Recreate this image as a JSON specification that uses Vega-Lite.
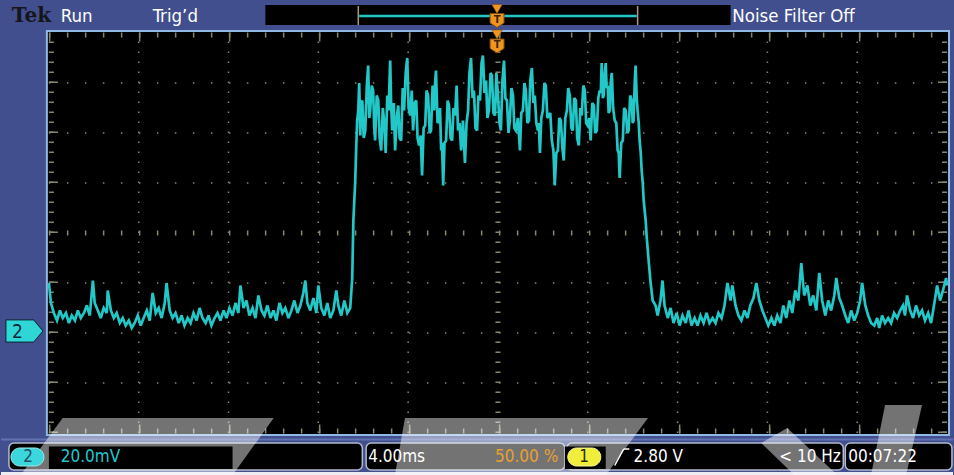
{
  "$schema": "https://vega.github.io/schema/vega-lite/v6.json",
  "width": 954,
  "height": 475,
  "autosize": {"type": "fit", "contains": "padding"},
  "padding": 0,
  "background": "#414f8f",
  "config": {"view": {"stroke": null}, "axis": {"disable": true}},
  "data": {"values": [{}]},
  "datasets": {
    "vgrid": [{"t": -16}, {"t": -12}, {"t": -8}, {"t": -4}, {"t": 4}, {"t": 8}, {"t": 12}, {"t": 16}],
    "hgrid": [{"v": -20}, {"v": 0}, {"v": 20}, {"v": 60}, {"v": 80}, {"v": 100}],
    "trace": [
      {"t": -20, "v": 20}, {"t": -19.91, "v": 12}, {"t": -19.78, "v": 8}, {"t": -19.64, "v": 5}, {"t": -19.51, "v": 9}, {"t": -19.38, "v": 6}, {"t": -19.24, "v": 8}, {"t": -19.11, "v": 4}, {"t": -18.98, "v": 7}, {"t": -18.84, "v": 5}, {"t": -18.71, "v": 9}, {"t": -18.58, "v": 6}, {"t": -18.44, "v": 8}, {"t": -18.31, "v": 11}, {"t": -18.18, "v": 7}, {"t": -18.04, "v": 21}, {"t": -17.96, "v": 12}, {"t": -17.82, "v": 9}, {"t": -17.69, "v": 6}, {"t": -17.56, "v": 10}, {"t": -17.42, "v": 8}, {"t": -17.38, "v": 17}, {"t": -17.24, "v": 9}, {"t": -17.11, "v": 6}, {"t": -16.98, "v": 8}, {"t": -16.84, "v": 4}, {"t": -16.71, "v": 6}, {"t": -16.58, "v": 3}, {"t": -16.44, "v": 5}, {"t": -16.31, "v": 2}, {"t": -16.18, "v": 4}, {"t": -16.04, "v": 7}, {"t": -15.91, "v": 3}, {"t": -15.78, "v": 6}, {"t": -15.64, "v": 9}, {"t": -15.51, "v": 5}, {"t": -15.38, "v": 16}, {"t": -15.24, "v": 8}, {"t": -15.11, "v": 10}, {"t": -14.98, "v": 6}, {"t": -14.84, "v": 12}, {"t": -14.76, "v": 20}, {"t": -14.62, "v": 9}, {"t": -14.49, "v": 6}, {"t": -14.36, "v": 8}, {"t": -14.22, "v": 4}, {"t": -14.09, "v": 7}, {"t": -13.96, "v": 3}, {"t": -13.82, "v": 6}, {"t": -13.69, "v": 4}, {"t": -13.56, "v": 8}, {"t": -13.42, "v": 5}, {"t": -13.29, "v": 10}, {"t": -13.16, "v": 6}, {"t": -13.02, "v": 4}, {"t": -12.89, "v": 7}, {"t": -12.76, "v": 3}, {"t": -12.62, "v": 6}, {"t": -12.49, "v": 8}, {"t": -12.36, "v": 5}, {"t": -12.22, "v": 9}, {"t": -12.09, "v": 6}, {"t": -11.96, "v": 10}, {"t": -11.82, "v": 7}, {"t": -11.69, "v": 12}, {"t": -11.56, "v": 8}, {"t": -11.47, "v": 19}, {"t": -11.33, "v": 10}, {"t": -11.2, "v": 13}, {"t": -11.07, "v": 7}, {"t": -10.93, "v": 10}, {"t": -10.8, "v": 6}, {"t": -10.67, "v": 15}, {"t": -10.53, "v": 9}, {"t": -10.4, "v": 7}, {"t": -10.27, "v": 11}, {"t": -10.13, "v": 6}, {"t": -10, "v": 9}, {"t": -9.87, "v": 5}, {"t": -9.73, "v": 12}, {"t": -9.6, "v": 8}, {"t": -9.47, "v": 10}, {"t": -9.33, "v": 6}, {"t": -9.2, "v": 9}, {"t": -9.07, "v": 13}, {"t": -8.93, "v": 8}, {"t": -8.8, "v": 11}, {"t": -8.67, "v": 16}, {"t": -8.58, "v": 21}, {"t": -8.49, "v": 12}, {"t": -8.36, "v": 9}, {"t": -8.22, "v": 14}, {"t": -8.09, "v": 8}, {"t": -8, "v": 19}, {"t": -7.87, "v": 10}, {"t": -7.73, "v": 7}, {"t": -7.6, "v": 12}, {"t": -7.47, "v": 6}, {"t": -7.33, "v": 9}, {"t": -7.2, "v": 17}, {"t": -7.11, "v": 11}, {"t": -6.98, "v": 7}, {"t": -6.84, "v": 13}, {"t": -6.71, "v": 8}, {"t": -6.58, "v": 10},
      {"t": -6.49, "v": 22}, {"t": -6.44, "v": 45}, {"t": -6.36, "v": 60}, {"t": -6.31, "v": 75}, {"t": -6.27, "v": 85},
      {"t": -6.22, "v": 89}, {"t": -6.18, "v": 100}, {"t": -6.13, "v": 79}, {"t": -6.09, "v": 92}, {"t": -6.04, "v": 93}, {"t": -5.98, "v": 78}, {"t": -5.91, "v": 81}, {"t": -5.84, "v": 99}, {"t": -5.78, "v": 107}, {"t": -5.73, "v": 86}, {"t": -5.69, "v": 89}, {"t": -5.62, "v": 99}, {"t": -5.56, "v": 97}, {"t": -5.51, "v": 82}, {"t": -5.47, "v": 77}, {"t": -5.4, "v": 95}, {"t": -5.33, "v": 93}, {"t": -5.27, "v": 78}, {"t": -5.2, "v": 73}, {"t": -5.13, "v": 90}, {"t": -5.07, "v": 85}, {"t": -5.0, "v": 72}, {"t": -4.93, "v": 95}, {"t": -4.87, "v": 89}, {"t": -4.8, "v": 109}, {"t": -4.76, "v": 92}, {"t": -4.71, "v": 81}, {"t": -4.64, "v": 92}, {"t": -4.58, "v": 73}, {"t": -4.51, "v": 86}, {"t": -4.44, "v": 91}, {"t": -4.38, "v": 78}, {"t": -4.31, "v": 77}, {"t": -4.24, "v": 98}, {"t": -4.18, "v": 89}, {"t": -4.11, "v": 104}, {"t": -4.04, "v": 110}, {"t": -3.98, "v": 90}, {"t": -3.91, "v": 87}, {"t": -3.84, "v": 97}, {"t": -3.78, "v": 81}, {"t": -3.71, "v": 92}, {"t": -3.64, "v": 93}, {"t": -3.58, "v": 78}, {"t": -3.51, "v": 75}, {"t": -3.44, "v": 79}, {"t": -3.38, "v": 63}, {"t": -3.31, "v": 82}, {"t": -3.24, "v": 83}, {"t": -3.18, "v": 97}, {"t": -3.11, "v": 95}, {"t": -3.04, "v": 80}, {"t": -2.98, "v": 81}, {"t": -2.91, "v": 99}, {"t": -2.84, "v": 89}, {"t": -2.8, "v": 100}, {"t": -2.76, "v": 105}, {"t": -2.69, "v": 84}, {"t": -2.62, "v": 85}, {"t": -2.58, "v": 90}, {"t": -2.53, "v": 73}, {"t": -2.49, "v": 76}, {"t": -2.44, "v": 59}, {"t": -2.38, "v": 76}, {"t": -2.31, "v": 77}, {"t": -2.24, "v": 93}, {"t": -2.18, "v": 91}, {"t": -2.11, "v": 78}, {"t": -2.04, "v": 77}, {"t": -1.98, "v": 90}, {"t": -1.91, "v": 87}, {"t": -1.84, "v": 99}, {"t": -1.78, "v": 81}, {"t": -1.71, "v": 84}, {"t": -1.64, "v": 73}, {"t": -1.56, "v": 85}, {"t": -1.47, "v": 68}, {"t": -1.4, "v": 84}, {"t": -1.33, "v": 89}, {"t": -1.27, "v": 104}, {"t": -1.2, "v": 110}, {"t": -1.13, "v": 94}, {"t": -1.07, "v": 97}, {"t": -1.0, "v": 82}, {"t": -0.93, "v": 81}, {"t": -0.87, "v": 95}, {"t": -0.8, "v": 93}, {"t": -0.73, "v": 108}, {"t": -0.67, "v": 111}, {"t": -0.6, "v": 96}, {"t": -0.53, "v": 101}, {"t": -0.47, "v": 86}, {"t": -0.4, "v": 89}, {"t": -0.33, "v": 104}, {"t": -0.27, "v": 103}, {"t": -0.2, "v": 88}, {"t": -0.13, "v": 87}, {"t": -0.07, "v": 104}, {"t": 0, "v": 95}, {"t": 0.07, "v": 84}, {"t": 0.13, "v": 81}, {"t": 0.2, "v": 101}, {"t": 0.27, "v": 109}, {"t": 0.33, "v": 94}, {"t": 0.4, "v": 93}, {"t": 0.47, "v": 80}, {"t": 0.53, "v": 85}, {"t": 0.6, "v": 98}, {"t": 0.67, "v": 95}, {"t": 0.73, "v": 82}, {"t": 0.8, "v": 81}, {"t": 0.89, "v": 86}, {"t": 0.98, "v": 73}, {"t": 1.04, "v": 88}, {"t": 1.11, "v": 89}, {"t": 1.18, "v": 100}, {"t": 1.24, "v": 97}, {"t": 1.31, "v": 84}, {"t": 1.38, "v": 85}, {"t": 1.44, "v": 101}, {"t": 1.51, "v": 106}, {"t": 1.58, "v": 92}, {"t": 1.64, "v": 95}, {"t": 1.71, "v": 84}, {"t": 1.78, "v": 81}, {"t": 1.82, "v": 84}, {"t": 1.87, "v": 72}, {"t": 1.93, "v": 86}, {"t": 2.0, "v": 89}, {"t": 2.07, "v": 100}, {"t": 2.13, "v": 99}, {"t": 2.2, "v": 86}, {"t": 2.27, "v": 87}, {"t": 2.33, "v": 88}, {"t": 2.4, "v": 77}, {"t": 2.47, "v": 73}, {"t": 2.53, "v": 59}, {"t": 2.6, "v": 72}, {"t": 2.67, "v": 73}, {"t": 2.73, "v": 86}, {"t": 2.8, "v": 85}, {"t": 2.87, "v": 74}, {"t": 2.93, "v": 69}, {"t": 3.0, "v": 86}, {"t": 3.07, "v": 89}, {"t": 3.13, "v": 98}, {"t": 3.2, "v": 95}, {"t": 3.27, "v": 82}, {"t": 3.33, "v": 81}, {"t": 3.4, "v": 94}, {"t": 3.47, "v": 93}, {"t": 3.53, "v": 78}, {"t": 3.6, "v": 75}, {"t": 3.67, "v": 90}, {"t": 3.73, "v": 87}, {"t": 3.8, "v": 99}, {"t": 3.87, "v": 97}, {"t": 3.93, "v": 84}, {"t": 4.0, "v": 83}, {"t": 4.07, "v": 86}, {"t": 4.13, "v": 77}, {"t": 4.2, "v": 92}, {"t": 4.27, "v": 91}, {"t": 4.33, "v": 80}, {"t": 4.4, "v": 81}, {"t": 4.47, "v": 94}, {"t": 4.53, "v": 97}, {"t": 4.58, "v": 96}, {"t": 4.62, "v": 108}, {"t": 4.67, "v": 94}, {"t": 4.71, "v": 95}, {"t": 4.76, "v": 104}, {"t": 4.8, "v": 108}, {"t": 4.84, "v": 98}, {"t": 4.89, "v": 99}, {"t": 4.93, "v": 88}, {"t": 4.98, "v": 89}, {"t": 5.02, "v": 100}, {"t": 5.07, "v": 104}, {"t": 5.13, "v": 90}, {"t": 5.2, "v": 85}, {"t": 5.27, "v": 84}, {"t": 5.33, "v": 73}, {"t": 5.38, "v": 72}, {"t": 5.42, "v": 62}, {"t": 5.49, "v": 76}, {"t": 5.56, "v": 77}, {"t": 5.62, "v": 90}, {"t": 5.69, "v": 89}, {"t": 5.76, "v": 80}, {"t": 5.82, "v": 81}, {"t": 5.89, "v": 95}, {"t": 5.96, "v": 93}, {"t": 6.0, "v": 84}, {"t": 6.04, "v": 85}, {"t": 6.09, "v": 100}, {"t": 6.13, "v": 107}, {"t": 6.18, "v": 94}, {"t": 6.22, "v": 89}, {"t": 6.27, "v": 84}, {"t": 6.31, "v": 77}, {"t": 6.36, "v": 72}, {"t": 6.4, "v": 65}, {"t": 6.45, "v": 60}, {"t": 6.49, "v": 53}, {"t": 6.58, "v": 45}, {"t": 6.62, "v": 39}, {"t": 6.71, "v": 29}, {"t": 6.8, "v": 20}, {"t": 6.89, "v": 13}, {"t": 7.02, "v": 11},
      {"t": 7.11, "v": 7}, {"t": 7.24, "v": 13}, {"t": 7.33, "v": 21}, {"t": 7.42, "v": 11}, {"t": 7.56, "v": 6}, {"t": 7.69, "v": 10}, {"t": 7.82, "v": 4}, {"t": 7.96, "v": 8}, {"t": 8.09, "v": 3}, {"t": 8.22, "v": 7}, {"t": 8.36, "v": 4}, {"t": 8.49, "v": 9}, {"t": 8.62, "v": 3}, {"t": 8.76, "v": 6}, {"t": 8.89, "v": 3}, {"t": 9.02, "v": 7}, {"t": 9.16, "v": 4}, {"t": 9.29, "v": 8}, {"t": 9.42, "v": 4}, {"t": 9.56, "v": 6}, {"t": 9.69, "v": 4}, {"t": 9.82, "v": 8}, {"t": 9.96, "v": 6}, {"t": 10.09, "v": 11}, {"t": 10.22, "v": 20}, {"t": 10.36, "v": 13}, {"t": 10.44, "v": 19}, {"t": 10.58, "v": 11}, {"t": 10.71, "v": 7}, {"t": 10.84, "v": 5}, {"t": 10.98, "v": 9}, {"t": 11.11, "v": 6}, {"t": 11.24, "v": 11}, {"t": 11.38, "v": 14}, {"t": 11.51, "v": 20}, {"t": 11.64, "v": 13}, {"t": 11.78, "v": 9}, {"t": 11.91, "v": 6}, {"t": 12.04, "v": 3}, {"t": 12.18, "v": 6}, {"t": 12.31, "v": 3}, {"t": 12.44, "v": 7}, {"t": 12.58, "v": 4}, {"t": 12.71, "v": 11}, {"t": 12.84, "v": 6}, {"t": 12.98, "v": 13}, {"t": 13.11, "v": 8}, {"t": 13.24, "v": 17}, {"t": 13.38, "v": 13}, {"t": 13.51, "v": 28}, {"t": 13.64, "v": 15}, {"t": 13.78, "v": 19}, {"t": 13.91, "v": 11}, {"t": 14.04, "v": 15}, {"t": 14.18, "v": 9}, {"t": 14.31, "v": 24}, {"t": 14.44, "v": 13}, {"t": 14.58, "v": 7}, {"t": 14.71, "v": 13}, {"t": 14.84, "v": 9}, {"t": 14.98, "v": 15}, {"t": 15.07, "v": 22}, {"t": 15.2, "v": 14}, {"t": 15.33, "v": 11}, {"t": 15.47, "v": 7}, {"t": 15.6, "v": 4}, {"t": 15.73, "v": 9}, {"t": 15.87, "v": 5}, {"t": 16.0, "v": 8}, {"t": 16.13, "v": 13}, {"t": 16.22, "v": 20}, {"t": 16.36, "v": 11}, {"t": 16.49, "v": 7}, {"t": 16.62, "v": 4}, {"t": 16.76, "v": 3}, {"t": 16.89, "v": 6}, {"t": 16.98, "v": 2}, {"t": 17.11, "v": 7}, {"t": 17.24, "v": 4}, {"t": 17.38, "v": 6}, {"t": 17.51, "v": 4}, {"t": 17.64, "v": 8}, {"t": 17.78, "v": 6}, {"t": 17.91, "v": 9}, {"t": 18.04, "v": 11}, {"t": 18.13, "v": 7}, {"t": 18.22, "v": 15}, {"t": 18.36, "v": 9}, {"t": 18.49, "v": 6}, {"t": 18.62, "v": 11}, {"t": 18.76, "v": 7}, {"t": 18.89, "v": 9}, {"t": 19.02, "v": 5}, {"t": 19.16, "v": 8}, {"t": 19.29, "v": 4}, {"t": 19.42, "v": 11}, {"t": 19.56, "v": 19}, {"t": 19.69, "v": 13}, {"t": 19.82, "v": 17}, {"t": 19.96, "v": 22}, {"t": 20.0, "v": 19}
    ]
  },
  "layer": [
    {
      "mark": {"type": "rect", "fill": "#000000"},
      "encoding": {
        "x": {"datum": -20.09, "type": "quantitative", "scale": {"domain": [-22.1333, 20.2667], "nice": false, "zero": false}},
        "x2": {"datum": 20.09},
        "y": {"datum": 120.8, "type": "quantitative", "scale": {"domain": [-56.8, 133.2], "nice": false, "zero": false}},
        "y2": {"datum": -40.8}
      }
    },
    {
      "data": {"name": "vgrid"},
      "mark": {"type": "rule", "color": "#858570", "strokeWidth": 1.5, "strokeDash": [1.5, 8.5]},
      "encoding": {"x": {"field": "t", "type": "quantitative"}, "y": {"datum": -40}, "y2": {"datum": 120}}
    },
    {
      "data": {"name": "hgrid"},
      "mark": {"type": "rule", "color": "#858570", "strokeWidth": 1.5, "strokeDash": [1.5, 16.5]},
      "encoding": {"y": {"field": "v", "type": "quantitative"}, "x": {"datum": -20}, "x2": {"datum": 20}}
    },
    {
      "mark": {"type": "rule", "color": "#858570", "strokeWidth": 5, "strokeDash": [1.5, 8.5]},
      "encoding": {"x": {"datum": 0}, "y": {"datum": -40}, "y2": {"datum": 120}}
    },
    {
      "mark": {"type": "rule", "color": "#858570", "strokeWidth": 5, "strokeDash": [1.5, 16.5]},
      "encoding": {"y": {"datum": 40}, "x": {"datum": -20}, "x2": {"datum": 20}}
    },
    {
      "mark": {"type": "rule", "color": "#858570", "strokeWidth": 5, "strokeDash": [1.5, 16.5]},
      "encoding": {"y": {"datum": 119.2}, "x": {"datum": -20}, "x2": {"datum": 20}}
    },
    {
      "mark": {"type": "rule", "color": "#858570", "strokeWidth": 9, "strokeDash": [1.5, 88.5]},
      "encoding": {"y": {"datum": 118.4}, "x": {"datum": -20}, "x2": {"datum": 20}}
    },
    {
      "mark": {"type": "rule", "color": "#858570", "strokeWidth": 5, "strokeDash": [1.5, 16.5]},
      "encoding": {"y": {"datum": -39.2}, "x": {"datum": -20}, "x2": {"datum": 20}}
    },
    {
      "mark": {"type": "rule", "color": "#858570", "strokeWidth": 9, "strokeDash": [1.5, 88.5]},
      "encoding": {"y": {"datum": -38.4}, "x": {"datum": -20}, "x2": {"datum": 20}}
    },
    {
      "mark": {"type": "rule", "color": "#858570", "strokeWidth": 5, "strokeDash": [1.5, 8.5]},
      "encoding": {"x": {"datum": -19.89}, "y": {"datum": -40}, "y2": {"datum": 120}}
    },
    {
      "mark": {"type": "rule", "color": "#858570", "strokeWidth": 9, "strokeDash": [1.5, 48.5]},
      "encoding": {"x": {"datum": -19.8}, "y": {"datum": -40}, "y2": {"datum": 120}}
    },
    {
      "mark": {"type": "rule", "color": "#858570", "strokeWidth": 5, "strokeDash": [1.5, 8.5]},
      "encoding": {"x": {"datum": 19.89}, "y": {"datum": -40}, "y2": {"datum": 120}}
    },
    {
      "mark": {"type": "rule", "color": "#858570", "strokeWidth": 9, "strokeDash": [1.5, 48.5]},
      "encoding": {"x": {"datum": 19.8}, "y": {"datum": -40}, "y2": {"datum": 120}}
    },
    {
      "data": {"name": "trace"},
      "mark": {"type": "line", "color": "#22c8c8", "strokeWidth": 2.7, "strokeJoin": "miter", "strokeMiterLimit": 3},
      "encoding": {"x": {"field": "t", "type": "quantitative"}, "y": {"field": "v", "type": "quantitative"}}
    },
    {
      "mark": {"type": "rect", "filled": false, "stroke": "#8fb8e4", "strokeWidth": 2},
      "encoding": {"x": {"datum": -20.09}, "x2": {"datum": 20.09}, "y": {"datum": 120.8}, "y2": {"datum": -40.8}}
    },
    {
      "mark": {"type": "rule", "color": "#6272b0", "strokeWidth": 2},
      "encoding": {"x": {"datum": -22.1333}, "x2": {"datum": 20.2667}, "y": {"datum": -42.6}}
    },
    {
      "mark": {"type": "rect", "fill": "#ececf2"},
      "encoding": {"x": {"datum": -22.1333}, "x2": {"datum": 20.2667}, "y": {"datum": -55.6}, "y2": {"datum": -56.8}}
    },
    {
      "mark": {"type": "point", "shape": "M-1,-0.6L0.5,-0.6L1,0L0.5,0.6L-1,0.6Z", "size": 1369, "filled": true, "fill": "#2fd6d6", "stroke": "#0a2430", "strokeWidth": 1, "opacity": 1},
      "encoding": {"x": {"datum": -21.09}, "y": {"datum": 0.8}}
    },
    {
      "mark": {"type": "text", "text": "2", "font": "DejaVu Sans Condensed", "fontSize": 19, "color": "#0b2838", "align": "center", "baseline": "middle"},
      "encoding": {"x": {"datum": -21.4}, "y": {"datum": 0.6}}
    },
    {
      "mark": {"type": "rect", "fill": "#000000"},
      "encoding": {"x": {"datum": -10.36}, "x2": {"datum": 10.36}, "y": {"datum": 131.2}, "y2": {"datum": 123.2}}
    },
    {
      "mark": {"type": "rule", "color": "#22c8c8", "strokeWidth": 2.5},
      "encoding": {"x": {"datum": -6.18}, "x2": {"datum": 6.18}, "y": {"datum": 126.8}}
    },
    {
      "mark": {"type": "rule", "color": "#a89888", "strokeWidth": 1.5},
      "encoding": {"x": {"datum": -6.22}, "y": {"datum": 130.8}, "y2": {"datum": 123.2}}
    },
    {
      "mark": {"type": "rule", "color": "#a89888", "strokeWidth": 1.5},
      "encoding": {"x": {"datum": 6.22}, "y": {"datum": 130.8}, "y2": {"datum": 123.2}}
    },
    {
      "mark": {"type": "point", "shape": "triangle-down", "size": 110, "filled": true, "fill": "#f0961e", "stroke": "#7a4a10", "strokeWidth": 0.5, "opacity": 1},
      "encoding": {"x": {"datum": -0.04}, "y": {"datum": 129.6}}
    },
    {
      "mark": {"type": "point", "shape": "M-1,-1L1,-1L1,0.35L0,1L-1,0.35Z", "size": 196, "filled": true, "fill": "#f0961e", "stroke": "#7a4a10", "strokeWidth": 1, "opacity": 1},
      "encoding": {"x": {"datum": -0.04}, "y": {"datum": 125.0}}
    },
    {
      "mark": {"type": "text", "text": "T", "font": "DejaVu Sans", "fontWeight": "bold", "fontSize": 10, "color": "#3a2508", "align": "center", "baseline": "middle"},
      "encoding": {"x": {"datum": -0.04}, "y": {"datum": 125.4}}
    },
    {
      "mark": {"type": "point", "shape": "triangle-down", "size": 110, "filled": true, "fill": "#f0961e", "stroke": "#7a4a10", "strokeWidth": 0.5, "opacity": 1},
      "encoding": {"x": {"datum": -0.04}, "y": {"datum": 119.4}}
    },
    {
      "mark": {"type": "point", "shape": "M-1,-1L1,-1L1,0.35L0,1L-1,0.35Z", "size": 196, "filled": true, "fill": "#f0961e", "stroke": "#7a4a10", "strokeWidth": 1, "opacity": 1},
      "encoding": {"x": {"datum": -0.04}, "y": {"datum": 114.8}}
    },
    {
      "mark": {"type": "text", "text": "T", "font": "DejaVu Sans", "fontWeight": "bold", "fontSize": 10, "color": "#3a2508", "align": "center", "baseline": "middle"},
      "encoding": {"x": {"datum": -0.04}, "y": {"datum": 115.2}}
    },
    {
      "mark": {"type": "text", "text": "Tek", "font": "DejaVu Serif", "fontWeight": "bold", "fontSize": 20, "color": "#15151a", "align": "left", "baseline": "middle"},
      "encoding": {"x": {"datum": -21.65}, "y": {"datum": 127.0}}
    },
    {
      "mark": {"type": "text", "text": "Run", "font": "DejaVu Sans Condensed", "fontSize": 18.5, "color": "#ffffff", "align": "left", "baseline": "middle"},
      "encoding": {"x": {"datum": -19.47}, "y": {"datum": 126.8}}
    },
    {
      "mark": {"type": "text", "text": "Trig’d", "font": "DejaVu Sans Condensed", "fontSize": 18.5, "color": "#ffffff", "align": "left", "baseline": "middle"},
      "encoding": {"x": {"datum": -15.38}, "y": {"datum": 126.8}}
    },
    {
      "mark": {"type": "text", "text": "Noise Filter Off", "font": "DejaVu Sans Condensed", "fontSize": 18.5, "color": "#ffffff", "align": "left", "baseline": "middle"},
      "encoding": {"x": {"datum": 10.44}, "y": {"datum": 126.8}}
    },
    {
      "mark": {"type": "rect", "fill": "#000000", "stroke": "#b4b8cc", "strokeWidth": 1.5, "cornerRadius": 5},
      "encoding": {"x": {"datum": -21.78}, "x2": {"datum": -6.04}, "y": {"datum": -44.0}, "y2": {"datum": -54.8}}
    },
    {
      "mark": {"type": "rect", "fill": "#000000", "stroke": "#b4b8cc", "strokeWidth": 1.5, "cornerRadius": 5},
      "encoding": {"x": {"datum": -5.87}, "x2": {"datum": 2.98}, "y": {"datum": -44.0}, "y2": {"datum": -54.8}}
    },
    {
      "mark": {"type": "rect", "fill": "#000000", "stroke": "#b4b8cc", "strokeWidth": 1.5, "cornerRadius": 5},
      "encoding": {"x": {"datum": 3.07}, "x2": {"datum": 15.38}, "y": {"datum": -44.0}, "y2": {"datum": -54.8}}
    },
    {
      "mark": {"type": "rect", "fill": "#000000", "stroke": "#b4b8cc", "strokeWidth": 1.5, "cornerRadius": 5},
      "encoding": {"x": {"datum": 15.47}, "x2": {"datum": 20.22}, "y": {"datum": -44.0}, "y2": {"datum": -54.8}}
    },
    {
      "mark": {"type": "point", "shape": "M-127,29L-85,-28L126,-28L85,29Z", "size": 4, "filled": true, "fill": "#ffffff", "strokeWidth": 0, "opacity": 0.45},
      "encoding": {"x": {"datum": -15.6}, "y": {"datum": -45.2}}
    },
    {
      "mark": {"type": "point", "shape": "M-115,-28L128,-28L86,29L-125,29Z", "size": 4, "filled": true, "fill": "#ffffff", "strokeWidth": 0, "opacity": 0.45},
      "encoding": {"x": {"datum": 0.98}, "y": {"datum": -45.2}}
    },
    {
      "mark": {"type": "point", "shape": "M-38,-7L-12,-22L38,25L-5,25Z", "size": 4, "filled": true, "fill": "#ffffff", "strokeWidth": 0, "opacity": 0.45},
      "encoding": {"x": {"datum": 13.42}, "y": {"datum": -46.8}}
    },
    {
      "mark": {"type": "point", "shape": "M-11,-35L26,-35L10,35L-25,35Z", "size": 4, "filled": true, "fill": "#ffffff", "strokeWidth": 0, "opacity": 0.45},
      "encoding": {"x": {"datum": 17.73}, "y": {"datum": -42.8}}
    },
    {
      "mark": {"type": "rect", "fill": "#000000"},
      "encoding": {"x": {"datum": -20.0}, "x2": {"datum": -11.82}, "y": {"datum": -45.4}, "y2": {"datum": -54.4}}
    },
    {
      "mark": {"type": "rect", "fill": "#000000"},
      "encoding": {"x": {"datum": 2.98}, "x2": {"datum": 4.8}, "y": {"datum": -45.4}, "y2": {"datum": -54.4}}
    },
    {
      "mark": {"type": "rect", "fill": "#3ad8dc", "stroke": "#9ee8ea", "strokeWidth": 1, "cornerRadius": 9},
      "encoding": {"x": {"datum": -21.69}, "x2": {"datum": -20.22}, "y": {"datum": -46.0}, "y2": {"datum": -53.2}}
    },
    {
      "mark": {"type": "text", "text": "2", "font": "DejaVu Sans Condensed", "fontSize": 17, "color": "#24506a", "align": "center", "baseline": "middle"},
      "encoding": {"x": {"datum": -20.93}, "y": {"datum": -49.6}}
    },
    {
      "mark": {"type": "text", "text": "20.0mV", "font": "DejaVu Sans Condensed", "fontSize": 17, "color": "#22c8d0", "align": "left", "baseline": "middle"},
      "encoding": {"x": {"datum": -19.47}, "y": {"datum": -49.6}}
    },
    {
      "mark": {"type": "text", "text": "4.00ms", "font": "DejaVu Sans Condensed", "fontSize": 17, "color": "#ffffff", "align": "left", "baseline": "middle"},
      "encoding": {"x": {"datum": -5.78}, "y": {"datum": -49.6}}
    },
    {
      "mark": {"type": "text", "text": "50.00 %", "font": "DejaVu Sans Condensed", "fontSize": 17, "color": "#e8a030", "align": "left", "baseline": "middle"},
      "encoding": {"x": {"datum": -0.13}, "y": {"datum": -49.6}}
    },
    {
      "mark": {"type": "rect", "fill": "#f0ee3a", "stroke": "#f8f8a0", "strokeWidth": 1, "cornerRadius": 9},
      "encoding": {"x": {"datum": 3.11}, "x2": {"datum": 4.58}, "y": {"datum": -46.0}, "y2": {"datum": -53.2}}
    },
    {
      "mark": {"type": "text", "text": "1", "font": "DejaVu Sans Condensed", "fontSize": 17, "color": "#2a2a10", "align": "center", "baseline": "middle"},
      "encoding": {"x": {"datum": 3.84}, "y": {"datum": -49.6}}
    },
    {
      "mark": {"type": "rule", "color": "#ffffff", "strokeWidth": 1.5},
      "encoding": {"x": {"datum": 5.2}, "x2": {"datum": 5.6}, "y": {"datum": -53.0}, "y2": {"datum": -46.4}}
    },
    {
      "mark": {"type": "rule", "color": "#ffffff", "strokeWidth": 1.5},
      "encoding": {"x": {"datum": 5.6}, "x2": {"datum": 5.85}, "y": {"datum": -46.4}}
    },
    {
      "mark": {"type": "text", "text": "2.80 V", "font": "DejaVu Sans Condensed", "fontSize": 17, "color": "#ffffff", "align": "left", "baseline": "middle"},
      "encoding": {"x": {"datum": 6.04}, "y": {"datum": -49.6}}
    },
    {
      "mark": {"type": "text", "text": "< 10 Hz", "font": "DejaVu Sans Condensed", "fontSize": 17, "color": "#ffffff", "align": "left", "baseline": "middle"},
      "encoding": {"x": {"datum": 12.53}, "y": {"datum": -49.6}}
    },
    {
      "mark": {"type": "text", "text": "00:07:22", "font": "DejaVu Sans Condensed", "fontSize": 17, "color": "#ffffff", "align": "left", "baseline": "middle"},
      "encoding": {"x": {"datum": 15.6}, "y": {"datum": -49.6}}
    }
  ]
}
